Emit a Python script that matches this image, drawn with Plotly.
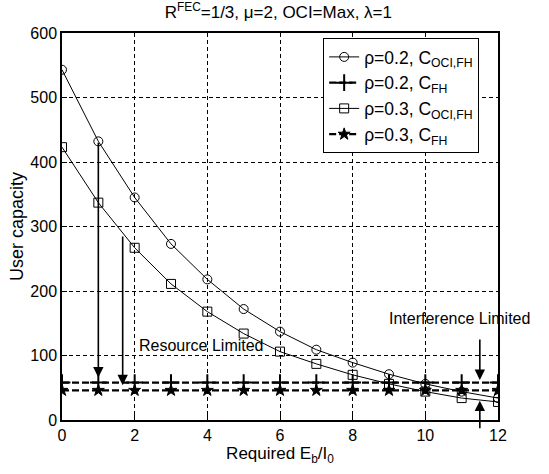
import plotly.graph_objects as go

x_vals = list(range(0, 13))
rho02_oci = [543, 432, 345, 273, 218, 172, 137, 109, 89, 71, 56, 44, 34]
rho03_oci = [423, 337, 267, 211, 168, 134, 106, 87, 70, 56, 44, 34, 28]
rho02_fh = [58] * 13
rho03_fh = [46] * 13

# annotation arrows: (x, y_start, y_tip)
arrows = [(1.0, 432, 66), (1.67, 287, 54), (11.5, 127, 62), (11.5, -15, 30)]
texts = [("Resource Limited", 3.84, 116), ("Interference Limited", 10.93, 157)]

FONT = "Liberation Sans, Arial, sans-serif"
fig = go.Figure()

fig.add_trace(go.Scatter(x=x_vals, y=rho02_oci, mode="lines+markers",
                         name="ρ=0.2, C<sub>OCI,FH</sub>",
                         line=dict(color="black", width=1),
                         marker=dict(symbol="circle-open", size=9, color="black", line=dict(width=1))))
fig.add_trace(go.Scatter(x=x_vals, y=rho02_fh, mode="lines+markers",
                         name="ρ=0.2, C<sub>FH</sub>",
                         line=dict(color="black", width=2.4, dash="7px,3px"),
                         marker=dict(symbol="cross-thin", size=12, color="black", line=dict(width=2, color="black"))))
fig.add_trace(go.Scatter(x=x_vals, y=rho03_oci, mode="lines+markers",
                         name="ρ=0.3, C<sub>OCI,FH</sub>",
                         line=dict(color="black", width=1),
                         marker=dict(symbol="square-open", size=9, color="black", line=dict(width=1))))
fig.add_trace(go.Scatter(x=x_vals, y=rho03_fh, mode="lines+markers",
                         name="ρ=0.3, C<sub>FH</sub>",
                         line=dict(color="black", width=2.4, dash="7px,3px"),
                         marker=dict(symbol="star", size=9, color="black", line=dict(width=1, color="black"))))

for (ax_x, y0, y1) in arrows:
    fig.add_annotation(x=ax_x, y=y1, ax=ax_x, ay=y0, xref="x", yref="y", axref="x", ayref="y",
                       showarrow=True, arrowhead=2, arrowsize=1.3, arrowwidth=1.6, arrowcolor="black", text="")

for (t, tx, ty) in texts:
    fig.add_annotation(x=tx, y=ty, xref="x", yref="y", text=t, showarrow=False,
                       font=dict(family=FONT, size=16, color="black"))

axis_common = dict(showline=True, linecolor="black", linewidth=1.5, mirror=True,
                   ticks="inside", ticklen=5, tickcolor="black",
                   showgrid=True, gridcolor="black", gridwidth=1, griddash="4px,3px",
                   zeroline=False, tickfont=dict(family=FONT, size=16, color="black"))

fig.update_xaxes(range=[0, 12], tickvals=[0, 2, 4, 6, 8, 10, 12],
                 title=dict(text="Required E<sub>b</sub>/I<sub>0</sub>", font=dict(family=FONT, size=17, color="black"), standoff=2),
                 **axis_common)
fig.update_yaxes(range=[0, 600], tickvals=[0, 100, 200, 300, 400, 500, 600],
                 title=dict(text="User capacity", font=dict(family=FONT, size=18, color="black"), standoff=2),
                 **axis_common)

fig.update_layout(
    width=549, height=474,
    margin=dict(l=62, r=51, t=33, b=54),
    paper_bgcolor="white", plot_bgcolor="white",
    title=dict(text="R<sup>FEC</sup>=1/3, μ=2, OCI=Max, λ=1", x=0.507, xanchor="center", y=0.975, yanchor="middle",
               font=dict(family=FONT, size=17, color="black")),
    legend=dict(x=0.599, y=0.987, xanchor="left", yanchor="top", bgcolor="white",
                bordercolor="black", borderwidth=1, font=dict(family=FONT, size=17.5, color="black"),
                tracegroupgap=0, itemwidth=30),
    showlegend=True,
)

fig.write_html("out.html")
